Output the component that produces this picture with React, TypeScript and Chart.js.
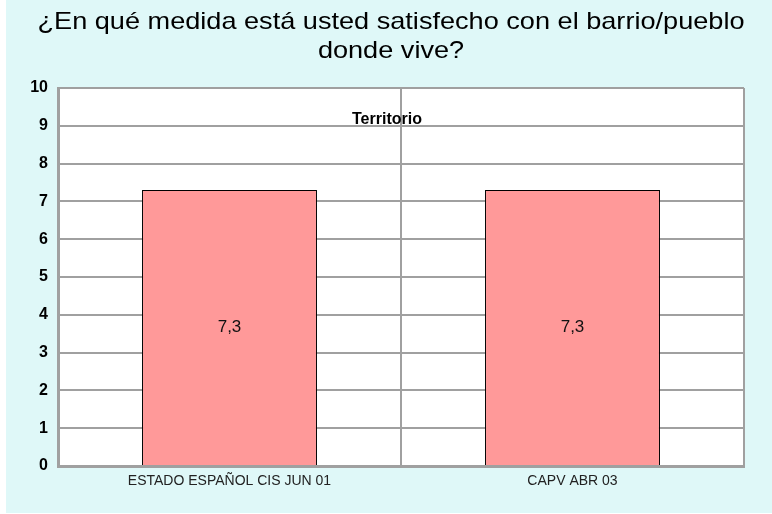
import React, { useEffect, useRef } from 'react';
import { Chart, registerables } from 'chart.js';

Chart.register(...registerables);

const titleLines = ['¿En qué medida está usted satisfecho con el barrio/pueblo', 'donde vive?'];
const categories = ['ESTADO ESPAÑOL CIS JUN 01', 'CAPV ABR 03'];
const seriesName = 'Territorio';
const values = [7.3, 7.3];
const yMin = 0;
const yMax = 10;
const yStep = 1;

const FONT = '"Liberation Sans", Arial, Helvetica, sans-serif';
const BG = '#dff8f8';
const GRID = '#a0a0a0';

const decoPlugin = {
  id: 'deco',
  beforeDraw(chart: any) {
    const { ctx, chartArea } = chart;
    ctx.save();
    ctx.fillStyle = '#ffffff';
    ctx.fillRect(0, 0, chart.width, chart.height);
    ctx.fillStyle = BG;
    ctx.fillRect(6, 0, chart.width - 6, 513);
    ctx.fillStyle = '#ffffff';
    ctx.fillRect(chartArea.left, chartArea.top, chartArea.right - chartArea.left, chartArea.bottom - chartArea.top);
    // title
    ctx.fillStyle = '#000000';
    ctx.font = `24px ${FONT}`;
    ctx.textAlign = 'center';
    ctx.textBaseline = 'alphabetic';
    const w = ctx.measureText(titleLines[0]).width;
    const sx = 707 / w;
    const cx = 391;
    titleLines.forEach((line, i) => {
      ctx.save();
      ctx.translate(cx, 29 + i * 29);
      ctx.scale(sx, 1);
      ctx.fillText(line, 0, 0);
      ctx.restore();
    });
    ctx.restore();
  },
  afterDatasetsDraw(chart: any) {
    const { ctx } = chart;
    ctx.save();
    ctx.fillStyle = '#111111';
    ctx.font = `17px ${FONT}`;
    ctx.textAlign = 'center';
    ctx.textBaseline = 'middle';
    chart.data.datasets.forEach((ds: any, di: number) => {
      const meta = chart.getDatasetMeta(di);
      meta.data.forEach((el: any, i: number) => {
        const v = ds.data[i];
        const txt = v.toFixed(1).replace('.', ',');
        ctx.fillText(txt, el.x, (el.y + el.base) / 2);
      });
    });
    // series name (legend-like)
    ctx.fillStyle = '#000000';
    ctx.font = `bold 16px ${FONT}`;
    ctx.fillText(chart.data.datasets[0].label, 387, 120);
    ctx.restore();
  },
};

export default function App() {
  const ref = useRef<HTMLCanvasElement | null>(null);
  useEffect(() => {
    if (!ref.current) return;
    const chart = new Chart(ref.current, {
      type: 'bar',
      data: {
        labels: categories,
        datasets: [
          {
            label: seriesName,
            data: values,
            backgroundColor: '#ff9999',
            borderColor: '#000000',
            borderWidth: 1,
            categoryPercentage: 1,
            barPercentage: 0.51,
          },
        ],
      },
      options: {
        animation: false,
        responsive: false,
        devicePixelRatio: 1,
        layout: { padding: { top: 88, left: 0, right: 28, bottom: 18 } },
        plugins: {
          legend: { display: false },
          title: { display: false },
          tooltip: { enabled: false },
        },
        scales: {
          x: {
            offset: true,
            grid: { display: true, offset: true, color: GRID, lineWidth: 2, drawTicks: false },
            border: { display: true, color: GRID, width: 3 },
            ticks: { color: '#222222', font: { family: FONT, size: 14 }, padding: 7, maxRotation: 0 },
            afterFit: (s: any) => { s.height = 30; },
          },
          y: {
            min: yMin,
            max: yMax,
            grid: { color: GRID, lineWidth: 2, drawTicks: false },
            border: { display: true, color: GRID, width: 3 },
            ticks: { stepSize: yStep, color: '#000000', font: { family: FONT, size: 16, weight: 'bold' }, padding: 10 },
            afterFit: (s: any) => { s.width = 58; },
          },
        },
      },
      plugins: [decoPlugin],
    });
    return () => chart.destroy();
  }, []);
  return (
    <div style={{ position: 'absolute', left: 0, top: 0, width: 772, height: 514 }}>
      <canvas ref={ref} width={772} height={514} style={{ display: 'block', width: 772, height: 514 }} />
    </div>
  );
}
